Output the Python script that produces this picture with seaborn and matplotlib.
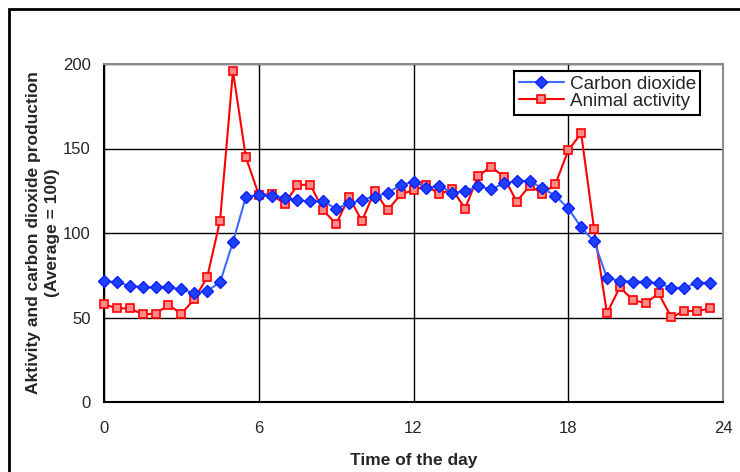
import numpy as np
import pandas as pd
import matplotlib
matplotlib.use("Agg")
import matplotlib.pyplot as plt
import seaborn as sns
from matplotlib.patches import Rectangle

# half-hour steps over the day
hours = np.arange(0, 24, 0.5)

carbon_dioxide = [71.6, 70.8, 68.8, 67.9, 67.9, 67.9, 66.7, 64.3, 65.7, 70.8,
                  94.7, 121.3, 122.5, 122.1, 120.9, 119.3, 118.7, 118.7, 114.4, 117.5,
                  119.7, 121.5, 123.9, 128.2, 130.4, 126.8, 127.8, 123.9, 124.7, 127.8,
                  125.8, 129.3, 130.8, 130.8, 126.4, 122.1, 114.6, 103.4, 95.1, 73.6,
                  71.6, 71.2, 71.2, 70.2, 67.6, 67.6, 70.6, 70.6]

animal_activity = [57.8, 55.4, 55.4, 51.9, 52.3, 57.4, 52.3, 60.8, 73.8, 107.3,
                   195.7, 144.8, 122.7, 122.9, 117.2, 128.4, 128.6, 113.4, 105.3, 121.3,
                   107.1, 124.9, 113.4, 122.9, 125.3, 128.2, 122.9, 126.0, 114.4, 133.5,
                   139.3, 133.3, 118.5, 128.0, 123.3, 128.8, 148.9, 159.0, 102.6, 52.5,
                   67.9, 60.4, 58.4, 64.3, 50.1, 53.8, 53.8, 55.4]

x_ticks = [0, 6, 12, 18, 24]
y_ticks = [0, 50, 100, 150, 200]

df = pd.DataFrame({"hour": hours,
                   "Carbon dioxide": carbon_dioxide,
                   "Animal activity": animal_activity})

sns.set_style("white")
plt.rcParams["font.family"] = ["Liberation Sans", "DejaVu Sans"]

fig = plt.figure(figsize=(7.4, 4.72), dpi=100)
ax = fig.add_axes([104 / 740, 1 - 402 / 472, (723 - 104) / 740, (402 - 64) / 472])

# outer chart frame
fig.patches.append(Rectangle((9 / 740, -0.05), 1.0, 1 - 9 / 472 + 0.05,
                             transform=fig.transFigure, fill=False,
                             edgecolor="black", linewidth=2, zorder=0))

sns.lineplot(data=df, x="hour", y="Carbon dioxide", ax=ax, color="#3D6BFF",
             linewidth=1.5, marker="D", markersize=6, markerfacecolor="#2040FF",
             markeredgecolor="#0A1EFF", markeredgewidth=1, label="Carbon dioxide",
             clip_on=False, zorder=4)
sns.lineplot(data=df, x="hour", y="Animal activity", ax=ax, color="#FF0000",
             linewidth=1.5, marker="s", markersize=6.3, markerfacecolor="#FF8A8A",
             markeredgecolor="#FF0000", markeredgewidth=1.2, label="Animal activity",
             clip_on=False, zorder=3)

ax.set_xlim(0, 24)
ax.set_ylim(0, 200)
ax.set_xticks(x_ticks)
ax.set_yticks(y_ticks)
ax.grid(True, color="black", linewidth=1)
ax.set_axisbelow(True)

for side in ["left", "bottom"]:
    ax.spines[side].set_color("black")
    ax.spines[side].set_linewidth(1.5)
for side in ["top", "right"]:
    ax.spines[side].set_color("#8C8C8C")
    ax.spines[side].set_linewidth(1.5)

ax.tick_params(axis="both", direction="inout", length=7, width=1,
               labelsize=12, color="black")
ax.tick_params(axis="x", pad=10.5)
ax.tick_params(axis="y", pad=6)

ax.set_xlabel("Time of the day", fontsize=12.5, fontweight="bold", labelpad=12)
ax.set_ylabel("Aktivity and carbon dioxide production\n(Average = 100)",
              fontsize=12.5, fontweight="bold", linespacing=1.3)
ax.yaxis.set_label_coords(-0.071, 0.5)

leg = ax.legend(loc="upper left", bbox_to_anchor=(0.662, 0.98), fontsize=13.6,
                frameon=True, fancybox=False, edgecolor="black", framealpha=1,
                borderpad=0.25, handlelength=2.4, handletextpad=0.3,
                labelspacing=0.0, borderaxespad=0)
leg.get_frame().set_linewidth(1.5)

fig.savefig("out.png", dpi=100)
